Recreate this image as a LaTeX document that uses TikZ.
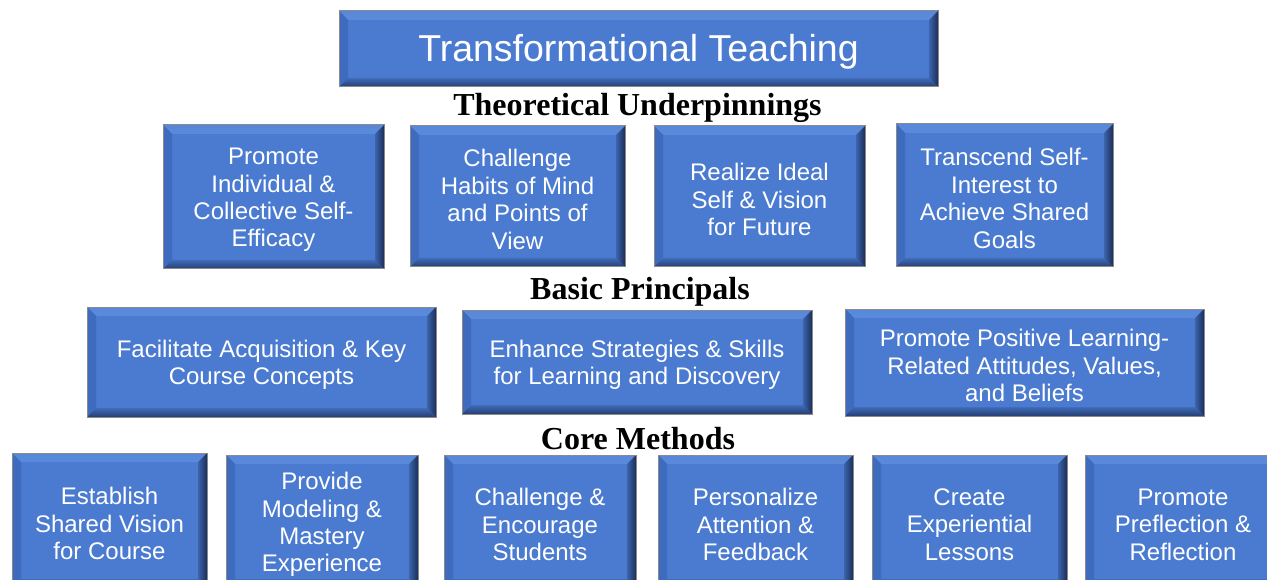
\documentclass[tikz,border=0pt]{standalone}
\usepackage{fontspec}
\setmainfont{Liberation Serif}
\setsansfont{Liberation Sans}
\usepackage{tikz}

\definecolor{boxface}{HTML}{4A7BD0}
\definecolor{bevtop}{HTML}{7AA6EE}
\definecolor{bevleft}{HTML}{3E6BBE}
\definecolor{bevdark}{HTML}{1B2E5A}
\definecolor{boxedge}{HTML}{8A8A8A}

\newcommand{\bevw}{9pt}

\tikzset{
    tbox/.style={draw=boxedge, line width=1pt, fill=boxface, text=white,
        inner sep=0pt, align=center,
        path picture={
            % top bevel
            \shade[top color=boxface!70!bevtop, bottom color=bevtop]
                (path picture bounding box.north west) -- (path picture bounding box.north east)
                -- ([xshift=-\bevw,yshift=-\bevw]path picture bounding box.north east)
                -- ([xshift=\bevw,yshift=-\bevw]path picture bounding box.north west) -- cycle;
            % left bevel
            \fill[bevleft]
                (path picture bounding box.north west)
                -- ([xshift=\bevw,yshift=-\bevw]path picture bounding box.north west)
                -- ([xshift=\bevw,yshift=\bevw]path picture bounding box.south west)
                -- (path picture bounding box.south west) -- cycle;
            % bottom bevel
            \shade[top color=boxface!80!bevdark, bottom color=bevdark!80!boxface]
                (path picture bounding box.south west) -- (path picture bounding box.south east)
                -- ([xshift=-\bevw,yshift=\bevw]path picture bounding box.south east)
                -- ([xshift=\bevw,yshift=\bevw]path picture bounding box.south west) -- cycle;
            % right bevel
            \shade[left color=boxface!70!bevdark, right color=bevdark]
                (path picture bounding box.north east) -- (path picture bounding box.south east)
                -- ([xshift=-\bevw,yshift=\bevw]path picture bounding box.south east)
                -- ([xshift=-\bevw,yshift=-\bevw]path picture bounding box.north east) -- cycle;
        }},
    boxtext/.style={text=white, inner sep=0pt, align=center, yshift=-3pt,
        font=\sffamily\fontsize{24}{27.4}\selectfont},
    heading/.style={anchor=base, inner sep=0pt, text=black,
        font=\rmfamily\bfseries\fontsize{32}{36}\selectfont},
}

\begin{document}
\begin{tikzpicture}[x=1pt, y=-1pt]
    \useasboundingbox (0,0) rectangle (1267,580);
    \clip (0,0) rectangle (1267,580);

    % Title
    \node[tbox, minimum width=599pt, minimum height=76pt, text height=26pt, text depth=0pt,
        font=\sffamily\fontsize{37.5}{40}\selectfont]
        (title) at (638.5,49) {Transformational Teaching};

    % Theoretical underpinnings
    \node[heading] (theory) at (637.5,116) {Theoretical Underpinnings};
    \node[tbox, minimum width=221pt, minimum height=144pt,
        label={[boxtext]center:{Promote\\Individual \&\\Collective Self-\\Efficacy}}]
        (efficacy) at (273.5,197) {};
    \node[tbox, minimum width=215pt, minimum height=141pt,
        label={[boxtext]center:{Challenge\\Habits of Mind\\and Points of\\View}}]
        (habits) at (517.5,196.5) {};
    \node[tbox, minimum width=211pt, minimum height=141pt,
        label={[boxtext]center:{Realize Ideal\\Self \& Vision\\for Future}}]
        (ideal) at (759.5,196.5) {};
    \node[tbox, minimum width=217pt, minimum height=143pt,
        label={[boxtext]center:{Transcend Self-\\Interest to\\Achieve Shared\\Goals}}]
        (goals) at (1004.5,195.5) {};

    % Basic principals
    \node[heading] (basic) at (640,300) {Basic Principals};
    \node[tbox, minimum width=349pt, minimum height=110pt,
        label={[boxtext]center:{Facilitate Acquisition \& Key\\Course Concepts}}]
        (concepts) at (261.5,362) {};
    \node[tbox, minimum width=350pt, minimum height=104pt,
        label={[boxtext]center:{Enhance Strategies \& Skills\\for Learning and Discovery}}]
        (skills) at (637,362) {};
    \node[tbox, minimum width=359pt, minimum height=107pt,
        label={[boxtext]center:{Promote Positive Learning-\\Related Attitudes, Values,\\and Beliefs}}]
        (attitudes) at (1024.5,362.5) {};

    % Core methods
    \node[heading] (core) at (638,449) {Core Methods};
    \node[tbox, minimum width=195pt, minimum height=135pt,
        label={[boxtext]center:{Establish\\Shared Vision\\for Course}}]
        (vision) at (109.5,520.5) {};
    \node[tbox, minimum width=192pt, minimum height=133pt,
        label={[boxtext]center:{Provide\\Modeling \&\\Mastery\\Experience}}]
        (modeling) at (322,521.5) {};
    \node[tbox, minimum width=192pt, minimum height=133pt,
        label={[boxtext]center:{Challenge \&\\Encourage\\Students}}]
        (encourage) at (540,521.5) {};
    \node[tbox, minimum width=195pt, minimum height=133pt,
        label={[boxtext]center:{Personalize\\Attention \&\\Feedback}}]
        (feedback) at (755.5,521.5) {};
    \node[tbox, minimum width=195pt, minimum height=133pt,
        label={[boxtext]center:{Create\\Experiential\\Lessons}}]
        (lessons) at (969.5,521.5) {};
    \node[tbox, minimum width=196pt, minimum height=133pt,
        label={[boxtext]center:{Promote\\Preflection \&\\Reflection}}]
        (reflection) at (1183,521.5) {};
\end{tikzpicture}
\end{document}
